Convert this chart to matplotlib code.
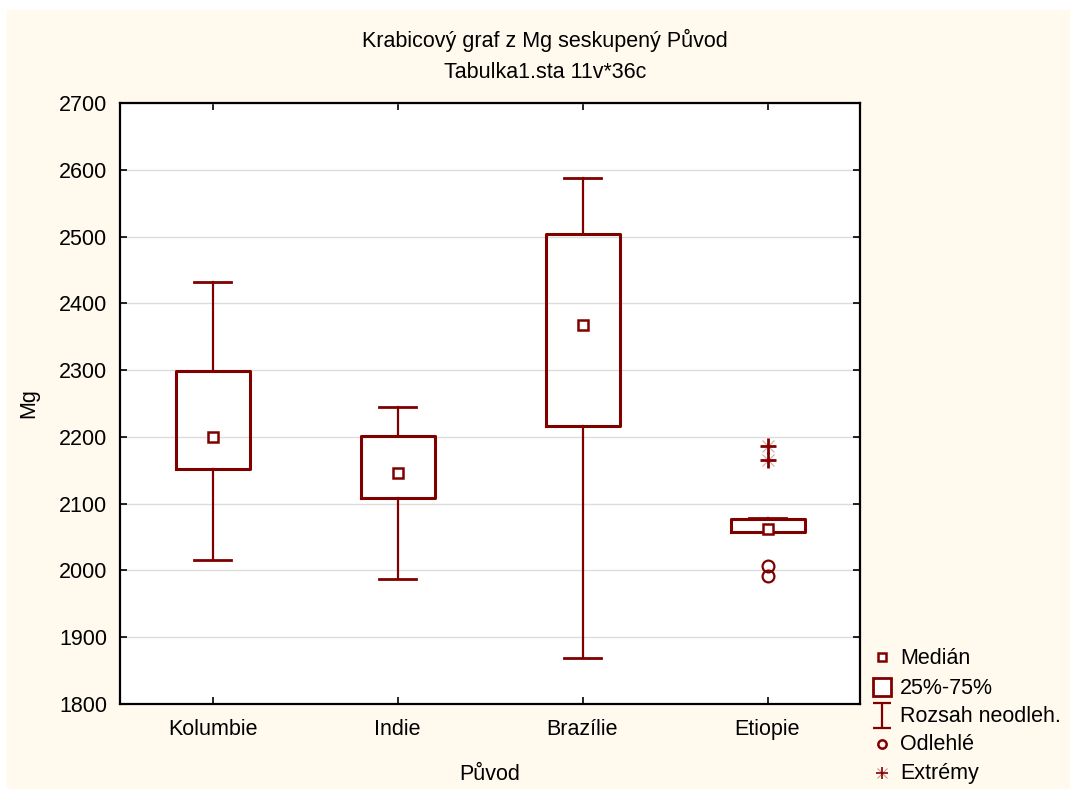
import matplotlib.pyplot as plt
from matplotlib.lines import Line2D
from matplotlib.patches import Rectangle
from matplotlib.path import Path

# ================= Data =================
groups = ["Kolumbie", "Indie", "Brazílie", "Etiopie"]
medians = [2200, 2146, 2367, 2062]
q1 = [2152, 2108, 2217, 2058]
q3 = [2299, 2201, 2504, 2077]
whisk_lo = [2016, 1987, 1869, 2057]
whisk_hi = [2432, 2245, 2588, 2079]
outliers = {"Etiopie": [2007, 1991]}
extremes = {"Etiopie": [2186, 2166]}

title_1 = "Krabicový graf z Mg seskupený Původ"
title_2 = "Tabulka1.sta 11v*36c"
legend_labels = ["Medián", "25%-75%", "Rozsah neodleh.", "Odlehlé", "Extrémy"]

# ================= Style =================
RED = "#800000"
BG = "#FFF9EE"
FS = 15.5
plt.rcParams["font.family"] = ["Liberation Sans", "DejaVu Sans"]
plt.rcParams["font.size"] = FS

W, H = 1070, 789
fig = plt.figure(figsize=(W / 100, H / 100), dpi=100, facecolor="white")
fig.patches.append(Rectangle((7 / W, 0), 1, 1 - 10 / H,
                             transform=fig.transFigure, color=BG, zorder=-10))

ax = fig.add_axes([120 / W, 1 - 704 / H, 740 / W, 601 / H])
ax.set_facecolor("white")

stats = []
for i, g in enumerate(groups):
    stats.append({"label": g, "med": medians[i], "q1": q1[i], "q3": q3[i],
                  "whislo": whisk_lo[i], "whishi": whisk_hi[i], "fliers": []})

pos = list(range(1, len(groups) + 1))
ax.bxp(stats, positions=pos, widths=0.4, capwidths=0.2, showfliers=False,
       boxprops=dict(color=RED, linewidth=2.2),
       whiskerprops=dict(color=RED, linewidth=1.6),
       capprops=dict(color=RED, linewidth=2.0),
       medianprops=dict(linewidth=0))

# median squares
ax.plot(pos, medians, ls="none", marker="s", ms=7.5, mfc="white", mec=RED, mew=1.8, zorder=5)

for g, vals in outliers.items():
    x = groups.index(g) + 1
    ax.plot([x] * len(vals), vals, ls="none", marker="o", ms=8.5, mfc="none", mec=RED, mew=1.6, zorder=5)

for g, vals in extremes.items():
    x = groups.index(g) + 1
    ax.plot([x] * len(vals), vals, ls="none", marker="+", ms=12, mec=RED, mew=2, zorder=5)
    ax.plot([x] * len(vals), vals, ls="none", marker="x", ms=9, mec=RED, mew=0.8,
            alpha=0.35, zorder=5)

ax.set_xlim(0.5, len(groups) + 0.5)
ax.set_ylim(1800, 2700)
ax.set_yticks(range(1800, 2701, 100))
ax.set_xticks(pos)
ax.set_xticklabels(groups)
ax.yaxis.grid(True, color="#dcdcdc", linewidth=1)
ax.set_axisbelow(True)
ax.tick_params(direction="in", top=True, right=True, length=5, width=1.2, labelsize=FS)
ax.tick_params(axis="y", pad=9)
ax.tick_params(axis="x", pad=11)
for sp in ax.spines.values():
    sp.set_linewidth(1.6)

ax.set_xlabel("Původ", fontsize=FS, labelpad=17)
ax.set_ylabel("Mg", fontsize=FS, labelpad=14)
fig.text(545 / W, 1 - 40 / H, title_1, ha="center", va="center", fontsize=FS)
fig.text(545 / W, 1 - 73 / H, title_2, ha="center", va="center", fontsize=FS)

# ================= Legend (drawn by hand) =================
ibeam = Path([(-0.7, 1), (0.7, 1), (0, 1), (0, -1), (-0.7, -1), (0.7, -1)],
             [Path.MOVETO, Path.LINETO, Path.MOVETO, Path.LINETO, Path.MOVETO, Path.LINETO])
legend_marks = [
    [dict(marker="s", ms=6, mfc="white", mec=RED, mew=1.8)],
    [dict(marker="s", ms=13.5, mfc="white", mec=RED, mew=2)],
    [dict(marker=ibeam, ms=18, mec=RED, mew=1.6)],
    [dict(marker="o", ms=6, mfc="none", mec=RED, mew=1.8)],
    [dict(marker="+", ms=8, mec=RED, mew=1.2),
     dict(marker="x", ms=7, mec=RED, mew=0.8, alpha=0.4)],
]
legend_y = [658, 688, 716, 745, 774]
for lab, marks, yy in zip(legend_labels, legend_marks, legend_y):
    for m in marks:
        fig.add_artist(Line2D([882 / W], [1 - (yy - 1) / H], ls="none",
                              transform=fig.transFigure, **m))
    fig.text(900 / W, 1 - yy / H, lab, ha="left", va="center", fontsize=FS)

fig.savefig("out.png", dpi=100, facecolor=fig.get_facecolor())
